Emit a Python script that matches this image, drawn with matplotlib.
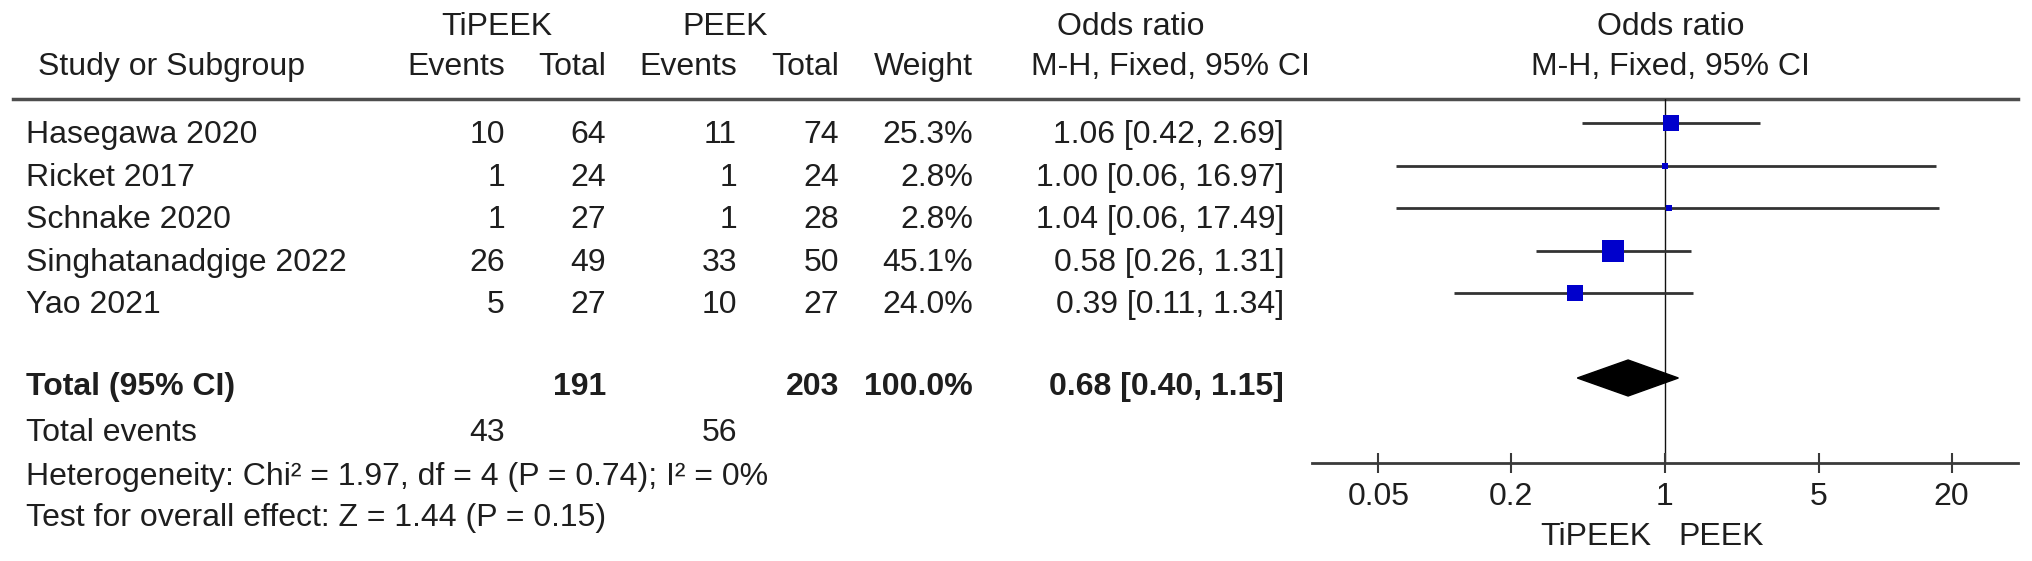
import matplotlib
matplotlib.use("Agg")
import matplotlib.pyplot as plt
from matplotlib.patches import Polygon
import numpy as np

plt.rcParams['font.family'] = ['Liberation Sans', 'DejaVu Sans']

# ---------------- data ----------------
studies = ['Hasegawa 2020', 'Ricket 2017', 'Schnake 2020', 'Singhatanadgige 2022', 'Yao 2021']
ti_events = [10, 1, 1, 26, 5]
ti_total = [64, 24, 27, 49, 27]
peek_events = [11, 1, 1, 33, 10]
peek_total = [74, 24, 28, 50, 27]
weights = [25.3, 2.8, 2.8, 45.1, 24.0]
or_est = [1.06, 1.00, 1.04, 0.58, 0.39]
ci_lo = [0.42, 0.06, 0.06, 0.26, 0.11]
ci_hi = [2.69, 16.97, 17.49, 1.31, 1.34]

total_ti = 191
total_peek = 203
total_weight = 100.0
total_or = 0.68
total_lo = 0.40
total_hi = 1.15
events_ti = 43
events_peek = 56
heterogeneity = 'Heterogeneity: Chi² = 1.97, df = 4 (P = 0.74); I² = 0%'
overall = 'Test for overall effect: Z = 1.44 (P = 0.15)'

xticks = [0.05, 0.2, 1, 5, 20]
xtick_labels = ['0.05', '0.2', '1', '5', '20']
left_label = 'TiPEEK'
right_label = 'PEEK'

# ---------------- layout ----------------
W, H = 2032, 561
fig = plt.figure(figsize=(W / 100, H / 100), dpi=100)
axt = fig.add_axes([0, 0, 1, 1])
axt.set_xlim(0, W)
axt.set_ylim(H, 0)
axt.axis('off')

fs = 23
tc = '#1e1e1e'
row_y = [135 + 42.6 * i for i in range(len(studies))]
total_y = 387
events_y = 433
het_y = 477
test_y = 518
mark_dy = -12

col_x = dict(name=26, te=505, tt=606, pe=737, pt=839, w=973, orr=1284)

# headers
hy1, hy2 = 27, 67
axt.text(497, hy1, 'TiPEEK', ha='center', va='center', fontsize=fs, color=tc)
axt.text(725, hy1, 'PEEK', ha='center', va='center', fontsize=fs, color=tc)
axt.text(1131, hy1, 'Odds ratio', ha='center', va='center', fontsize=fs, color=tc)
axt.text(1671, hy1, 'Odds ratio', ha='center', va='center', fontsize=fs, color=tc)
axt.text(38, hy2, 'Study or Subgroup', ha='left', va='center', fontsize=fs, color=tc)
axt.text(col_x['te'], hy2, 'Events', ha='right', va='center', fontsize=fs, color=tc)
axt.text(col_x['tt'], hy2, 'Total', ha='right', va='center', fontsize=fs, color=tc)
axt.text(col_x['pe'], hy2, 'Events', ha='right', va='center', fontsize=fs, color=tc)
axt.text(col_x['pt'], hy2, 'Total', ha='right', va='center', fontsize=fs, color=tc)
axt.text(col_x['w'], hy2, 'Weight', ha='right', va='center', fontsize=fs, color=tc)
axt.text(1170, hy2, 'M-H, Fixed, 95% CI', ha='center', va='center', fontsize=fs, color=tc)
axt.text(1670, hy2, 'M-H, Fixed, 95% CI', ha='center', va='center', fontsize=fs, color=tc)

axt.axhline(99, xmin=13 / W, xmax=2018 / W, color='#4d4d4d', lw=2.5)

# study rows
for i, s in enumerate(studies):
    y = row_y[i]
    axt.text(col_x['name'], y, s, ha='left', va='center', fontsize=fs, color=tc)
    axt.text(col_x['te'], y, str(ti_events[i]), ha='right', va='center', fontsize=fs, color=tc)
    axt.text(col_x['tt'], y, str(ti_total[i]), ha='right', va='center', fontsize=fs, color=tc)
    axt.text(col_x['pe'], y, str(peek_events[i]), ha='right', va='center', fontsize=fs, color=tc)
    axt.text(col_x['pt'], y, str(peek_total[i]), ha='right', va='center', fontsize=fs, color=tc)
    axt.text(col_x['w'], y, f'{weights[i]:.1f}%', ha='right', va='center', fontsize=fs, color=tc)
    axt.text(col_x['orr'], y, f'{or_est[i]:.2f} [{ci_lo[i]:.2f}, {ci_hi[i]:.2f}]',
             ha='right', va='center', fontsize=fs, color=tc)

# total row
axt.text(col_x['name'], total_y, 'Total (95% CI)', ha='left', va='center', fontsize=fs, color=tc, weight='bold')
axt.text(col_x['tt'], total_y, str(total_ti), ha='right', va='center', fontsize=fs, color=tc, weight='bold')
axt.text(col_x['pt'], total_y, str(total_peek), ha='right', va='center', fontsize=fs, color=tc, weight='bold')
axt.text(col_x['w'], total_y, f'{total_weight:.1f}%', ha='right', va='center', fontsize=fs, color=tc, weight='bold')
axt.text(col_x['orr'], total_y, f'{total_or:.2f} [{total_lo:.2f}, {total_hi:.2f}]',
         ha='right', va='center', fontsize=fs, color=tc, weight='bold')

axt.text(col_x['name'], events_y, 'Total events', ha='left', va='center', fontsize=fs, color=tc)
axt.text(col_x['te'], events_y, str(events_ti), ha='right', va='center', fontsize=fs, color=tc)
axt.text(col_x['pe'], events_y, str(events_peek), ha='right', va='center', fontsize=fs, color=tc)
axt.text(col_x['name'], het_y, heterogeneity, ha='left', va='center', fontsize=fs, color=tc)
axt.text(col_x['name'], test_y, overall, ha='left', va='center', fontsize=fs, color=tc)

# ---------------- forest panel ----------------
ax_left, ax_right = 1312, 2018
ax_top, ax_bot = 99, 463
ax = fig.add_axes([ax_left / W, (H - ax_bot) / H, (ax_right - ax_left) / W, (ax_bot - ax_top) / H])
ax.set_xscale('log')
ax.set_xlim(0.025, 40)
ax.set_ylim(ax_bot, ax_top)
ax.patch.set_alpha(0)
for sp in ['top', 'left', 'right']:
    ax.spines[sp].set_visible(False)
ax.spines['bottom'].set_color('#3a3a3a')
ax.spines['bottom'].set_linewidth(2.0)
ax.set_yticks([])
ax.xaxis.set_minor_locator(matplotlib.ticker.NullLocator())
ax.set_xticks(xticks)
ax.set_xticklabels(xtick_labels)
ax.tick_params(axis='x', direction='inout', length=15, width=1.5, color='#3a3a3a',
               labelsize=fs, labelcolor=tc, pad=6)

ax.axvline(1, color='#111111', lw=1.0, zorder=1)

max_w = max(weights)
for i in range(len(studies)):
    y = row_y[i] + mark_dy
    ax.hlines(y, ci_lo[i], ci_hi[i], color='#333333', lw=2.0, zorder=2)
    side_px = 22 * np.sqrt(weights[i] / max_w)
    ax.plot([or_est[i]], [y], marker='s', markersize=side_px * 0.72,
            color='#0000cc', mec='#0000cc', mew=0, zorder=3, linestyle='none')

dy = total_y - 9
half_h = 18
diamond = Polygon([[total_lo, dy], [total_or, dy - half_h], [total_hi, dy], [total_or, dy + half_h]],
                  closed=True, facecolor='black', edgecolor='black', zorder=3)
ax.add_patch(diamond)

axt.text(1651, 537, left_label, ha='right', va='center', fontsize=fs, color=tc)
axt.text(1678, 537, right_label, ha='left', va='center', fontsize=fs, color=tc)

fig.savefig('out.png', dpi=100)
